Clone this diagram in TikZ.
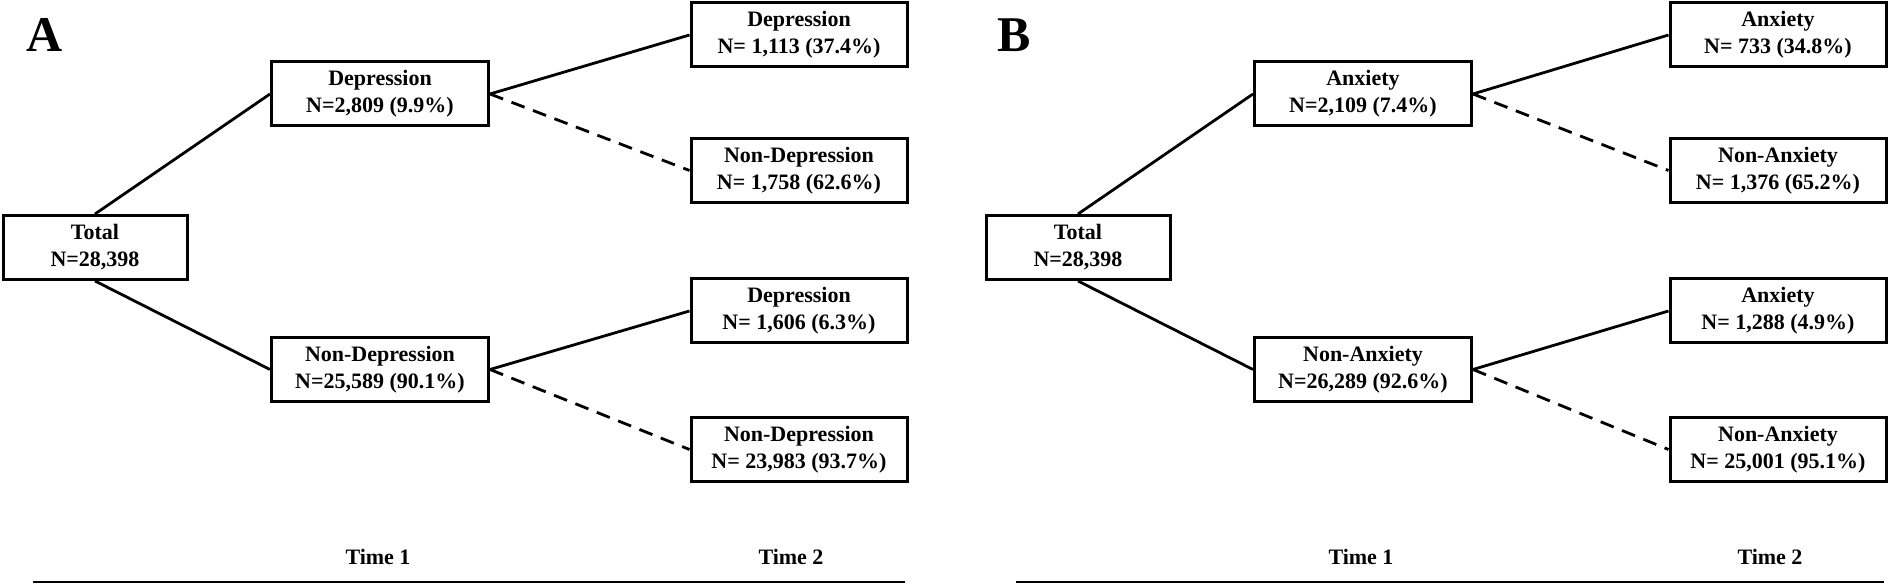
\documentclass[tikz,border=0pt]{standalone}
\usepackage{fontspec}
\setmainfont{Liberation Serif}
\usetikzlibrary{positioning}

\begin{document}
\begin{tikzpicture}[
    x=1pt, y=1pt,
    box/.style={draw, line width=3pt, minimum height=64pt, align=center, inner sep=0pt,
      font=\fontsize{22}{27}\selectfont\bfseries},
    total box/.style={box, minimum width=184pt},
    first box/.style={box, minimum width=217pt},
    second box/.style={box, minimum width=216pt},
    stay edge/.style={line width=2.8pt},
    change edge/.style={line width=2.8pt, dash pattern=on 14pt off 9pt},
    panel label/.style={font=\fontsize{50}{50}\selectfont\bfseries},
    time note/.style={font=\fontsize{22}{27}\selectfont\bfseries}
]
  \useasboundingbox (0,0) rectangle (1888,586);

  % panel A: depression
  \node[panel label] (labA) at (45,551) {A};
  \node[total box] (totA) at (95,338.5) {Total\\N=28,398};
  \node[first box] (dep) at (380,492) {Depression\\N=2,809 (9.9\%)};
  \node[first box] (nondep) at (380,216.5) {Non-Depression\\N=25,589 (90.1\%)};
  \node[second box] (depdep) at (799,551) {Depression\\N= 1,113 (37.4\%)};
  \node[second box] (depnon) at (799,415.5) {Non-Depression\\N= 1,758 (62.6\%)};
  \node[second box] (nondepdep) at (799,275) {Depression\\N= 1,606 (6.3\%)};
  \node[second box] (nondepnon) at (799,136.5) {Non-Depression\\N= 23,983 (93.7\%)};
  \node[time note] (t1A) at (378,29) {Time 1};
  \node[time note] (t2A) at (791,29) {Time 2};

  \draw[stay edge] (totA.north) -- (dep.west);
  \draw[stay edge] (totA.south) -- (nondep.west);
  \draw[stay edge] (dep.east) -- (depdep.west);
  \draw[change edge] (dep.east) -- (depnon.west);
  \draw[stay edge] (nondep.east) -- (nondepdep.west);
  \draw[change edge] (nondep.east) -- (nondepnon.west);
  \draw[line width=2.8pt] (33,4) -- (905,4);

  % panel B: anxiety
  \node[panel label] (labB) at (1014,551) {B};
  \node[total box] (totB) at (1078,338.5) {Total\\N=28,398};
  \node[first box] (anx) at (1363,492) {Anxiety\\N=2,109 (7.4\%)};
  \node[first box] (nonanx) at (1363,216.5) {Non-Anxiety\\N=26,289 (92.6\%)};
  \node[second box] (anxanx) at (1778,551) {Anxiety\\N= 733 (34.8\%)};
  \node[second box] (anxnon) at (1778,415.5) {Non-Anxiety\\N= 1,376 (65.2\%)};
  \node[second box] (nonanxanx) at (1778,275) {Anxiety\\N= 1,288 (4.9\%)};
  \node[second box] (nonanxnon) at (1778,136.5) {Non-Anxiety\\N= 25,001 (95.1\%)};
  \node[time note] (t1B) at (1361,29) {Time 1};
  \node[time note] (t2B) at (1770,29) {Time 2};

  \draw[stay edge] (totB.north) -- (anx.west);
  \draw[stay edge] (totB.south) -- (nonanx.west);
  \draw[stay edge] (anx.east) -- (anxanx.west);
  \draw[change edge] (anx.east) -- (anxnon.west);
  \draw[stay edge] (nonanx.east) -- (nonanxanx.west);
  \draw[change edge] (nonanx.east) -- (nonanxnon.west);
  \draw[line width=2.8pt] (1016,4) -- (1884,4);
\end{tikzpicture}
\end{document}
